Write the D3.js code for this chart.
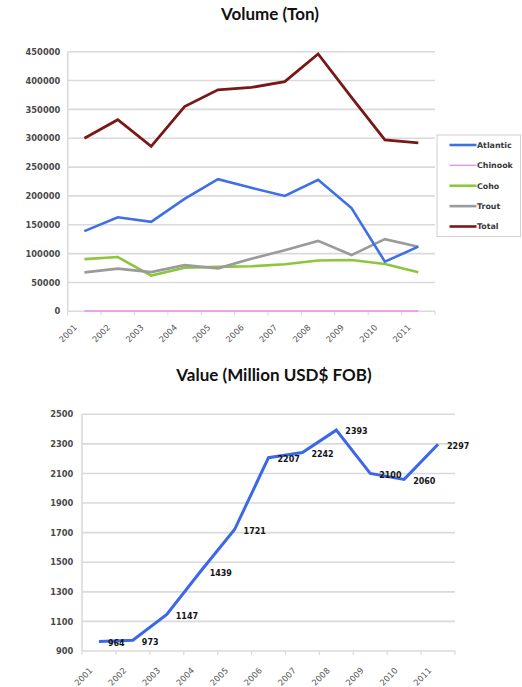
<!DOCTYPE html>
<html>
<head>
<meta charset="utf-8">
<script src="https://cdn.jsdelivr.net/npm/d3@7"></script>
<style>
  html, body { margin: 0; padding: 0; background: #fff; }
  svg { display: block; }
</style>
</head>
<body>
<svg id="chart" width="522" height="687"></svg>
<script>
// Years shared by both panels
const years = ["2001","2002","2003","2004","2005","2006","2007","2008","2009","2010","2011"];

// Volume (tons) by species
const atlantic = [139000,163000,155000,195000,229000,214000,200000,228000,179000,86000,112000];
const chinook  = [600,600,600,600,600,600,600,600,600,600,600];
const coho     = [90500,94000,62000,75500,77000,78000,81500,88000,89000,82000,67500];
const trout    = [67500,74000,68000,80000,74500,91000,106000,122000,97500,125000,112000];
const total    = [300000,332000,286000,355000,384000,388000,398000,446000,371000,297000,292000];

// Export value (million USD FOB)
const value = [964,973,1147,1439,1721,2207,2242,2393,2100,2060,2297];

// Axis ticks
const volumeTicks = [0,50000,100000,150000,200000,250000,300000,350000,400000,450000];
const valueTicks  = [900,1100,1300,1500,1700,1900,2100,2300,2500];

const volumeSeries = [
  { name: "Atlantic", values: atlantic, color: "#3e6fe6", width: 2.6 },
  { name: "Chinook",  values: chinook,  color: "#f58bee", width: 1.6 },
  { name: "Coho",     values: coho,     color: "#8cc63c", width: 2.6 },
  { name: "Trout",    values: trout,    color: "#9a9a9a", width: 2.6 },
  { name: "Total",    values: total,    color: "#7a1717", width: 2.8 }
];

const svg = d3.select("#chart");
const gridColor = "#dadada";
const tickFont = "DejaVu Sans, sans-serif";

function drawFrame(g, x, y, ticks, labelGap, xLabelDx, xLabelDy) {
  const [x0, x1] = x.range();
  // horizontal gridlines
  g.append("g").selectAll("line").data(ticks).join("line")
    .attr("x1", x0).attr("x2", x1)
    .attr("y1", d => y(d)).attr("y2", d => y(d))
    .attr("stroke", gridColor).attr("stroke-width", 1.6);
  // left axis line
  g.append("line")
    .attr("x1", x0).attr("x2", x0)
    .attr("y1", y(ticks[0])).attr("y2", y(ticks[ticks.length - 1]))
    .attr("stroke", gridColor).attr("stroke-width", 1.6);
  // y tick labels via d3 axis
  const ax = g.append("g")
    .attr("transform", `translate(${x0 - labelGap},0)`)
    .call(d3.axisLeft(y).tickValues(ticks).tickSize(0).tickPadding(0).tickFormat(d3.format("d")));
  ax.select(".domain").remove();
  ax.selectAll("text")
    .attr("font-family", tickFont).attr("font-weight", "bold")
    .attr("font-size", 8.3).attr("fill", "#4a4a4a");
  // x tick marks at category boundaries
  const base = y(ticks[0]);
  const bounds = x.domain().map(c => x(c)).concat([x1]);
  g.append("g").selectAll("line").data(bounds).join("line")
    .attr("x1", d => d).attr("x2", d => d)
    .attr("y1", base).attr("y2", base + 4)
    .attr("stroke", gridColor).attr("stroke-width", 1.2);
  // rotated year labels
  g.append("g").selectAll("text").data(x.domain()).join("text")
    .attr("transform", c => `translate(${x(c) + x.bandwidth() / 2 + xLabelDx},${base + xLabelDy}) rotate(-45)`)
    .attr("text-anchor", "end").attr("dy", "0.35em")
    .attr("font-family", tickFont).attr("font-size", 8.4)
    .attr("fill", "#555")
    .text(c => c);
}

// ---------- Volume panel ----------
const volPanel = svg.append("g");
volPanel.append("text")
  .attr("x", 270).attr("y", 20).attr("text-anchor", "middle")
  .attr("font-family", "Lato, sans-serif").attr("font-weight", "bold")
  .attr("font-size", 17).attr("fill", "#111")
  .text("Volume (Ton)");

const xVol = d3.scaleBand().domain(years).range([67.7, 435]).padding(0);
const yVol = d3.scaleLinear().domain([0, 450000]).range([311.3, 51.7]);
drawFrame(volPanel, xVol, yVol, volumeTicks, 7.5, -9, 14.5);

const volLine = d3.line()
  .x((d, i) => xVol(years[i]) + xVol.bandwidth() / 2)
  .y(d => yVol(d));

// Chinook first so it sits beneath the others
const drawOrder = ["Chinook", "Coho", "Trout", "Atlantic", "Total"];
drawOrder.forEach(n => {
  const s = volumeSeries.find(v => v.name === n);
  volPanel.append("path")
    .attr("d", volLine(s.values))
    .attr("fill", "none").attr("stroke", s.color)
    .attr("stroke-width", s.width).attr("stroke-linejoin", "miter");
});

// legend
const leg = volPanel.append("g");
leg.append("rect")
  .attr("x", 437).attr("y", 135).attr("width", 83.5).attr("height", 101.5)
  .attr("fill", "#fff").attr("stroke", "#d0d0d0").attr("stroke-width", 1);
const legY = d3.scalePoint().domain(volumeSeries.map(s => s.name)).range([145, 226.5]);
volumeSeries.forEach(s => {
  leg.append("line")
    .attr("x1", 449.5).attr("x2", 476.5)
    .attr("y1", legY(s.name)).attr("y2", legY(s.name))
    .attr("stroke", s.color).attr("stroke-width", s.name === "Chinook" ? 1.4 : 2.6);
  leg.append("text")
    .attr("x", 477).attr("y", legY(s.name)).attr("dy", "0.35em")
    .attr("font-family", tickFont).attr("font-weight", "bold")
    .attr("font-size", 7.9).attr("fill", "#3a3a3a")
    .text(s.name);
});

// ---------- Value panel ----------
const valPanel = svg.append("g");
valPanel.append("text")
  .attr("x", 274).attr("y", 381).attr("text-anchor", "middle")
  .attr("font-family", "Lato, sans-serif").attr("font-weight", "bold")
  .attr("font-size", 17).attr("fill", "#111")
  .text("Value (Million USD$ FOB)");

const xVal = d3.scaleBand().domain(years).range([82, 455]).padding(0);
const yVal = d3.scaleLinear().domain([900, 2500]).range([651, 414.3]);
drawFrame(valPanel, xVal, yVal, valueTicks, 8.7, -8, 18);

const valLine = d3.line()
  .x((d, i) => xVal(years[i]) + xVal.bandwidth() / 2)
  .y(d => yVal(d));

valPanel.append("path")
  .attr("d", valLine(value))
  .attr("fill", "none").attr("stroke", "#3c68e8")
  .attr("stroke-width", 3).attr("stroke-linejoin", "miter");

valPanel.append("g").selectAll("text").data(value).join("text")
  .attr("x", (d, i) => xVal(years[i]) + xVal.bandwidth() / 2 + 9)
  .attr("y", d => yVal(d) + 1.5)
  .attr("dy", "0.35em")
  .attr("font-family", tickFont).attr("font-weight", "bold")
  .attr("font-size", 8).attr("fill", "#151515")
  .text(d => d);
</script>
</body>
</html>
